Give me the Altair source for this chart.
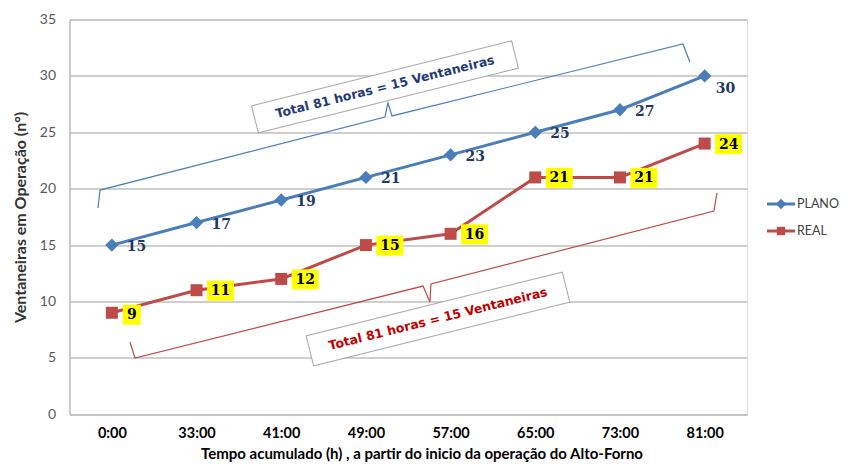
import json
import altair as alt
import pandas as pd

# ---------------- data ----------------
categories = ["0:00", "33:00", "41:00", "49:00", "57:00", "65:00", "73:00", "81:00"]
plano = [15, 17, 19, 21, 23, 25, 27, 30]
real = [9, 11, 12, 15, 16, 21, 21, 24]
series_names = ["PLANO", "REAL"]

# annotation braces, in data units (x = category index, y = value)
brace_plano_x = [-0.164, -0.140, 3.225, 3.260, 3.308, 6.743, 6.826]
brace_plano_y = [18.29, 19.88, 26.36, 27.60, 26.45, 32.83, 31.23]
brace_real_x = [0.214, 0.273, 3.674, 3.756, 3.768, 7.109, 7.145]
brace_real_y = [6.41, 4.99, 11.37, 9.96, 11.55, 18.02, 19.62]
note_text = "Total 81 horas = 15 Ventaneiras"
note_plano_pos = [3.225, 29.02]
note_real_pos = [3.851, 8.45]

# ---------------- tables ----------------
rows = []
for i, c in enumerate(categories):
    rows.append({"x": i, "y": plano[i], "series": "PLANO", "cat": c, "lab": str(plano[i])})
for i, c in enumerate(categories):
    rows.append({"x": i, "y": real[i], "series": "REAL", "cat": c, "lab": str(real[i])})
df = pd.DataFrame(rows)

brows = []
for k, (bx, by) in enumerate(zip(brace_plano_x, brace_plano_y)):
    brows.append({"x": bx, "y": by, "o": k, "series": "PLANO"})
for k, (bx, by) in enumerate(zip(brace_real_x, brace_real_y)):
    brows.append({"x": bx, "y": by, "o": k, "series": "REAL"})
bdf = pd.DataFrame(brows)

ndf = pd.DataFrame([
    {"x": note_plano_pos[0], "y": note_plano_pos[1], "series": "PLANO", "text": note_text},
    {"x": note_real_pos[0], "y": note_real_pos[1], "series": "REAL", "text": note_text},
])

BLUE = "#4A7EBB"
RED = "#BE4B48"
color_scale = alt.Scale(domain=series_names, range=[BLUE, RED])

label_expr = json.dumps(categories) + "[datum.value]"

X = alt.X(
    "x:Q",
    scale=alt.Scale(domain=[-0.5, 7.5], nice=False, zero=False),
    axis=alt.Axis(
        values=list(range(len(categories))),
        labelExpr=label_expr,
        grid=False,
        ticks=False,
        tickSize=0,
        domainColor="#BFBFBF",
        domainWidth=1.5,
        labelFont="Lato",
        labelFontSize=14.5,
        labelFontWeight="bold",
        labelColor="#000000",
        labelPadding=12,
        title="Tempo acumulado (h) , a partir do inicio da operação do Alto-Forno",
        titleFont="Lato",
        titleFontSize=15,
        titleFontWeight="bold",
        titleColor="#000000",
        titleX=352,
        titleY=39,
        titleBaseline="middle",
        titleAlign="center",
    ),
)
Y = alt.Y(
    "y:Q",
    scale=alt.Scale(domain=[0, 35], nice=False, zero=True),
    axis=alt.Axis(
        values=[0, 5, 10, 15, 20, 25, 30, 35],
        grid=True,
        gridColor="#BFBFBF",
        gridWidth=1.5,
        ticks=False,
        tickSize=0,
        domainColor="#BFBFBF",
        domainWidth=1.5,
        labelFont="Lato",
        labelFontSize=14,
        labelColor="#595959",
        labelPadding=14,
        title="Ventaneiras em Operação (n°)",
        titleFont="Lato",
        titleFontSize=16,
        titleFontWeight="bold",
        titleColor="#333333",
        titleX=-49.5,
        titleY=197.4,
        titleAngle=270,
        titleBaseline="middle",
        titleAlign="center",
    ),
)

# braces
braces = alt.Chart(bdf).mark_line(strokeWidth=1.2, interpolate="linear").encode(
    x=X, y=Y, order="o:Q", detail="series:N",
    color=alt.Color("series:N", scale=color_scale, legend=None),
)

# note boxes (rotated rectangles)
box_plano = alt.Chart(ndf).transform_filter(alt.datum.series == "PLANO").mark_point(
    shape="M-1,-0.1045L1,-0.1045L1,0.1045L-1,0.1045Z",
    size=268 * 268, angle=346, filled=True, fill="white", stroke="#A6A6A6",
    strokeWidth=1, opacity=1, fillOpacity=1,
).encode(x=X, y=Y)
box_real = alt.Chart(ndf).transform_filter(alt.datum.series == "REAL").mark_point(
    shape="M-1,-0.117L1,-0.117L1,0.117L-1,0.117Z",
    size=264 * 264, angle=346, filled=True, fill="white", stroke="#A6A6A6",
    strokeWidth=1, opacity=1, fillOpacity=1,
).encode(x=X, y=Y)
note_plano = alt.Chart(ndf).transform_filter(alt.datum.series == "PLANO").mark_text(
    angle=346, font="DejaVu Sans", fontSize=12.5, fontWeight="bold", color="#1F3A78",
    align="center", baseline="middle",
).encode(x=X, y=Y, text="text:N")
note_real = alt.Chart(ndf).transform_filter(alt.datum.series == "REAL").mark_text(
    angle=346, font="DejaVu Sans", fontSize=12.5, fontWeight="bold", color="#C00000",
    align="center", baseline="middle",
).encode(x=X, y=Y, text="text:N")

# series lines
lines = alt.Chart(df).mark_line(strokeWidth=3).encode(
    x=X, y=Y, detail="series:N",
    color=alt.Color("series:N", scale=color_scale, legend=None),
)
pts_plano = alt.Chart(df).transform_filter(alt.datum.series == "PLANO").mark_point(
    shape="diamond", size=177, filled=True, color=BLUE, opacity=1,
).encode(x=X, y=Y)
pts_real = alt.Chart(df).transform_filter(alt.datum.series == "REAL").mark_point(
    shape="square", size=144, filled=True, color=RED, opacity=1,
).encode(x=X, y=Y)

# PLANO labels
lab_plano = alt.Chart(df).transform_filter(
    (alt.datum.series == "PLANO") & (alt.datum.x < 7)
).mark_text(
    align="left", baseline="middle", dx=15, dy=2, font="DejaVu Serif",
    fontSize=14, fontWeight="bold", color="#1F3864",
).encode(x=X, y=Y, text="lab:N")
lab_plano_last = alt.Chart(df).transform_filter(
    (alt.datum.series == "PLANO") & (alt.datum.x == 7)
).mark_text(
    align="left", baseline="middle", dx=11, dy=13, font="DejaVu Serif",
    fontSize=14, fontWeight="bold", color="#1F3864",
).encode(x=X, y=Y, text="lab:N")

# REAL labels on yellow boxes
real2 = alt.Chart(df).transform_filter((alt.datum.series == "REAL") & (alt.datum.y >= 10))
real1 = alt.Chart(df).transform_filter((alt.datum.series == "REAL") & (alt.datum.y < 10))
ybox2 = real2.mark_rect(color="#FFFF00", xOffset=10.5, x2Offset=37.5, yOffset=-9.5, y2Offset=10.5).encode(
    x=X, x2=alt.X2("x"), y=Y, y2=alt.Y2("y"))
ybox1 = real1.mark_rect(color="#FFFF00", xOffset=11, x2Offset=29, yOffset=-8, y2Offset=12).encode(
    x=X, x2=alt.X2("x"), y=Y, y2=alt.Y2("y"))
ytxt2 = real2.mark_text(align="center", baseline="middle", dx=24, dy=1, font="DejaVu Serif",
                        fontSize=14, fontWeight="bold", color="#000000").encode(x=X, y=Y, text="lab:N")
ytxt1 = real1.mark_text(align="center", baseline="middle", dx=20, dy=2, font="DejaVu Serif",
                        fontSize=14, fontWeight="bold", color="#000000").encode(x=X, y=Y, text="lab:N")

# legend drawn by hand, to the right of the plot
leg_plano = alt.Chart(pd.DataFrame({"series": ["PLANO"]}))
leg_real = alt.Chart(pd.DataFrame({"series": ["REAL"]}))
leg_layers = []
for base, col, shp, sz, ypix in [(leg_plano, BLUE, "diamond", 110, 184.5),
                                 (leg_real, RED, "square", 70, 211.5)]:
    leg_layers.append(base.mark_rule(color=col, strokeWidth=3).encode(
        x=alt.value(697.5), x2=alt.value(725.5), y=alt.value(ypix)))
    leg_layers.append(base.mark_point(shape=shp, size=sz, filled=True, color=col, opacity=1).encode(
        x=alt.value(711.5), y=alt.value(ypix)))
    leg_layers.append(base.mark_text(align="left", baseline="middle", font="Lato", fontSize=12.5,
                                     color="#404040").encode(
        x=alt.value(727.5), y=alt.value(ypix), text="series:N"))

chart = alt.layer(
    braces, box_plano, box_real, note_plano, note_real,
    lines, pts_plano, pts_real, lab_plano, lab_plano_last,
    ybox2, ybox1, ytxt2, ytxt1, *leg_layers,
).properties(
    width=677.5,
    height=394.8,
    autosize=alt.AutoSizeParams(type="none"),
    padding={"left": 61.5, "top": 11.5, "right": 92, "bottom": 47.5},
).configure_view(stroke=None).configure(background="white")

chart.save("out.html", embed_options={"renderer": "svg", "actions": False})
